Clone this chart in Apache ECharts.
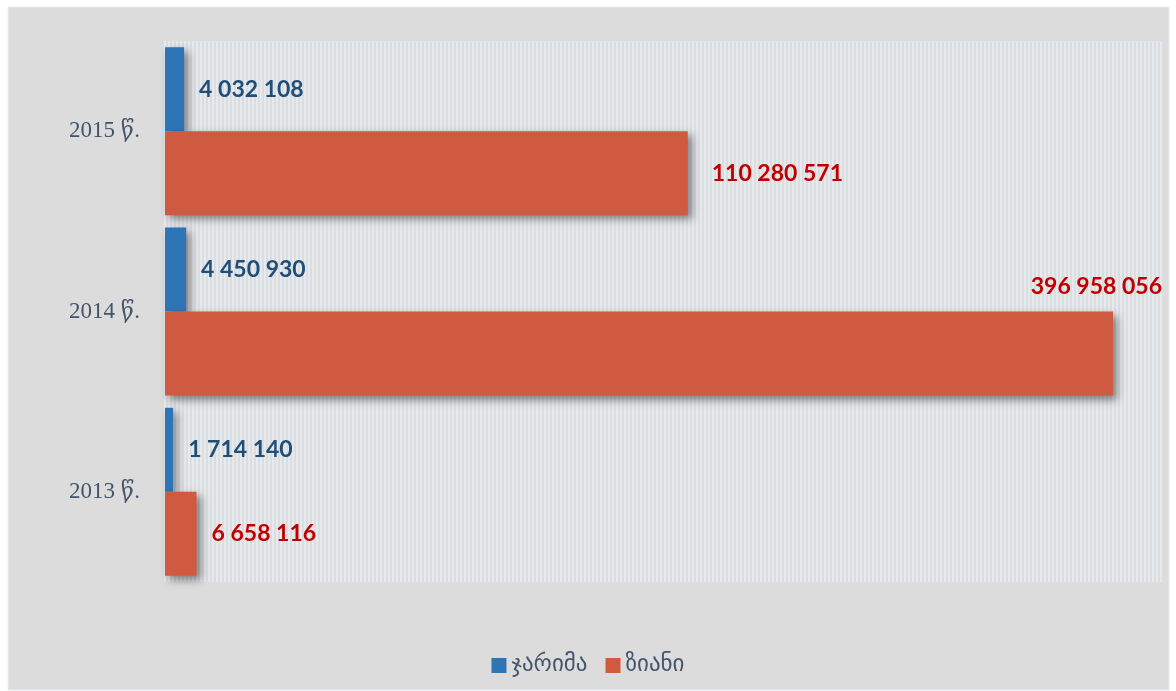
<!DOCTYPE html>
<html>
<head>
<meta charset="utf-8">
<script src="https://cdn.jsdelivr.net/npm/echarts@6/dist/echarts.min.js"></script>
<style>
  html, body { margin: 0; padding: 0; background: #ffffff; }
  #main { width: 1176px; height: 691px; }
</style>
</head>
<body>
<div id="main"></div>
<script>
var years = ['2013 წ.', '2014 წ.', '2015 წ.'];
var fines = [1714140, 4450930, 4032108];       // ჯარიმა
var damage = [6658116, 396958056, 110280571];  // ზიანი
var seriesNames = ['ჯარიმა', 'ზიანი'];

var myChart = echarts.init(document.getElementById('main'));

// striped plot background, like the excel texture
var stripe = document.createElement('canvas');
stripe.width = 4;
stripe.height = 2;
var ctx = stripe.getContext('2d');
ctx.fillStyle = '#dcdddf';
ctx.fillRect(0, 0, 4, 2);
ctx.fillStyle = '#e6e9ee';
ctx.fillRect(0, 0, 2, 2);

function fmt(v) {
  return String(v).replace(/\B(?=(\d{3})+(?!\d))/g, ' ');
}

var labelBase = {
  show: true,
  position: 'right',
  distance: 15,
  fontFamily: 'Lato',
  fontWeight: 'bold',
  fontSize: 23,
  formatter: function (p) { return fmt(p.value); }
};

var shadow = {
  shadowColor: 'rgba(0,0,0,0.45)',
  shadowBlur: 8,
  shadowOffsetX: 4,
  shadowOffsetY: 4
};

var damageData = damage.map(function (v, i) {
  var item = { value: v };
  if (i === 1) {
    // label sits above the long bar
    item.label = { position: ['100%', 0], align: 'right', verticalAlign: 'bottom', offset: [49, -13] };
  }
  if (i === 2) {
    item.label = { distance: 24 };
  }
  return item;
});

var option = {
  backgroundColor: '#ffffff',
  animation: false,
  graphic: [
    {
      type: 'rect', z: 0, silent: true,
      shape: { x: 8, y: 7, width: 1161, height: 683 },
      style: { fill: '#dcdcdc', stroke: '#e9ecf0', lineWidth: 1 }
    },
    {
      type: 'rect', z: 1, silent: true,
      shape: { x: 163, y: 41, width: 1000, height: 541 },
      style: { fill: { image: stripe, repeat: 'repeat' } }
    }
  ],
  legend: {
    data: seriesNames,
    top: 649,
    left: 'center',
    itemWidth: 15,
    itemHeight: 15,
    itemGap: 18,
    icon: 'rect',
    textStyle: { color: '#44546a', fontSize: 23, fontFamily: 'DejaVu Sans' }
  },
  grid: {
    left: 165,
    right: 63,
    top: 41,
    bottom: 109,
    containLabel: false
  },
  xAxis: {
    type: 'value',
    min: 0,
    max: 200000000,
    show: false,
    splitLine: { show: false }
  },
  yAxis: {
    type: 'category',
    data: years,
    axisLine: { show: false },
    axisTick: { show: false },
    axisLabel: {
      margin: 25,
      color: '#44546a',
      fontSize: 23,
      fontFamily: "'Liberation Serif', 'DejaVu Serif', serif"
    }
  },
  series: [
    {
      name: 'ჯარიმა',
      type: 'bar',
      barWidth: 84,
      barGap: '0%',
      data: fines,
      itemStyle: Object.assign({ color: '#2e75b6' }, shadow),
      label: Object.assign({}, labelBase, { color: '#1f4e79' })
    },
    {
      name: 'ზიანი',
      type: 'bar',
      barWidth: 84,
      barGap: '0%',
      clip: true,
      data: damageData,
      itemStyle: Object.assign({ color: '#cf5a3f' }, shadow),
      label: Object.assign({}, labelBase, { color: '#c00000' })
    }
  ]
};

option && myChart.setOption(option);
</script>
</body>
</html>
